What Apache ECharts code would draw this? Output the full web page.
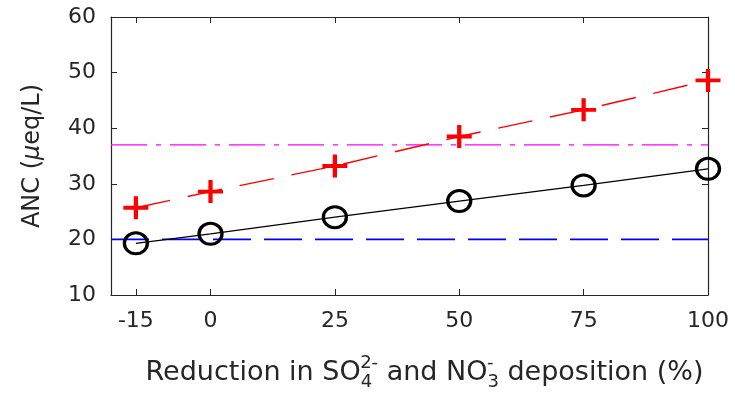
<!DOCTYPE html>
<html>
<head>
<meta charset="utf-8">
<title>ANC vs deposition reduction</title>
<script src="https://cdn.jsdelivr.net/npm/echarts@6/dist/echarts.min.js"></script>
<style>
  html, body { margin: 0; padding: 0; background: #fff; }
  #chart { width: 735px; height: 399px; }
</style>
</head>
<body>
<div id="chart"></div>
<script>
// data
const reductions = [-15, 0, 25, 50, 75, 100];
const ancCross = [25.7, 28.6, 33.2, 38.5, 43.3, 48.6];
const ancCircle = [19.3, 21.0, 24.0, 26.9, 29.7, 32.7];
const magentaLevel = 37;
const blueLevel = 20;
const xRange = [-20, 100];
const yTicks = [10, 20, 30, 40, 50, 60];

const FONT = "'DejaVu Sans', 'Liberation Sans', Arial, sans-serif";
const AXIS = '#262626';

const chart = echarts.init(document.getElementById('chart'), null, { renderer: 'canvas' });

const plusPath = 'path://M8.3,0H11.7V8.3H20V11.7H11.7V20H8.3V11.7H0V8.3H8.3Z';

function pairs(xs, ys) {
  return xs.map((x, i) => [x, ys[i]]);
}

const tickCommon = {
  show: true,
  inside: true,
  length: 6,
  lineStyle: { color: AXIS, width: 1 },
};

const option = {
  animation: false,
  backgroundColor: '#fff',
  grid: { left: 111, right: 27, top: 17, bottom: 104 },
  xAxis: [
    {
      type: 'value',
      min: xRange[0],
      max: xRange[1],
      axisLine: { show: true, onZero: false, lineStyle: { color: AXIS, width: 1.2 } },
      axisTick: Object.assign({ customValues: reductions }, tickCommon),
      axisLabel: {
        customValues: reductions,
        color: AXIS,
        fontFamily: FONT,
        fontSize: 22,
        margin: 15,
      },
      splitLine: { show: false },
      name: 'Reduction in SO{sub|4}{sup|2-} and NO{sub|3}{sup2|-}deposition (%)',
      nameLocation: 'middle',
      nameGap: 59,
      nameTextStyle: {
        color: AXIS,
        fontFamily: FONT,
        fontSize: 27,
        padding: [0, 0, 0, 30],
        rich: {
          sub: { fontFamily: FONT, fontSize: 18, color: AXIS, verticalAlign: 'bottom', padding: [19, 0, 0, 0] },
          sup: { fontFamily: FONT, fontSize: 18, color: AXIS, verticalAlign: 'top', padding: [0, 0, 19, -12] },
          sup2: { fontFamily: FONT, fontSize: 18, color: AXIS, verticalAlign: 'top', padding: [0, 14, 19, -12] },
        },
      },
    },
    {
      type: 'value',
      position: 'top',
      min: xRange[0],
      max: xRange[1],
      axisLine: { show: true, onZero: false, lineStyle: { color: AXIS, width: 1.2 } },
      axisTick: Object.assign({ customValues: reductions }, tickCommon),
      axisLabel: { show: false },
      splitLine: { show: false },
    },
  ],
  yAxis: [
    {
      type: 'value',
      min: yTicks[0],
      max: yTicks[yTicks.length - 1],
      interval: 10,
      axisLine: { show: true, onZero: false, lineStyle: { color: AXIS, width: 1.2 } },
      axisTick: tickCommon,
      axisLabel: { color: AXIS, fontFamily: FONT, fontSize: 22, margin: 15 },
      splitLine: { show: false },
      name: 'ANC ({i|μ}eq/L)',
      nameLocation: 'middle',
      nameRotate: 90,
      nameGap: 66,
      nameTextStyle: {
        color: AXIS,
        fontFamily: FONT,
        fontSize: 24,
        rich: { i: { fontFamily: FONT, fontSize: 24, fontStyle: 'italic', color: AXIS } },
      },
    },
    {
      type: 'value',
      position: 'right',
      min: yTicks[0],
      max: yTicks[yTicks.length - 1],
      interval: 10,
      axisLine: { show: true, onZero: false, lineStyle: { color: AXIS, width: 1.2 } },
      axisTick: tickCommon,
      axisLabel: { show: false },
      splitLine: { show: false },
    },
  ],
  series: [
    {
      name: 'magenta level',
      type: 'line',
      data: pairs(xRange, [magentaLevel, magentaLevel]),
      symbol: 'none',
      lineStyle: { color: '#ff00ff', width: 1.4, type: [36, 9, 5, 9] },
      z: 1,
    },
    {
      name: 'blue level',
      type: 'line',
      data: pairs(xRange, [blueLevel, blueLevel]),
      symbol: 'none',
      lineStyle: { color: '#0000ff', width: 1.6, type: [38, 13] },
      z: 1,
    },
    {
      name: 'cross',
      type: 'line',
      data: pairs(reductions, ancCross),
      symbol: plusPath,
      symbolSize: [25, 23],
      itemStyle: { color: '#ff0000' },
      lineStyle: { color: '#ff0000', width: 1.4, type: [35, 18] },
      z: 3,
    },
    {
      name: 'circle',
      type: 'line',
      data: pairs(reductions, ancCircle),
      symbol: 'circle',
      symbolSize: [23, 21],
      itemStyle: { color: 'rgba(0,0,0,0)', borderColor: '#000', borderWidth: 3.2 },
      lineStyle: { color: '#000', width: 1.3 },
      z: 3,
    },
  ],
};

chart.setOption(option);
</script>
</body>
</html>
